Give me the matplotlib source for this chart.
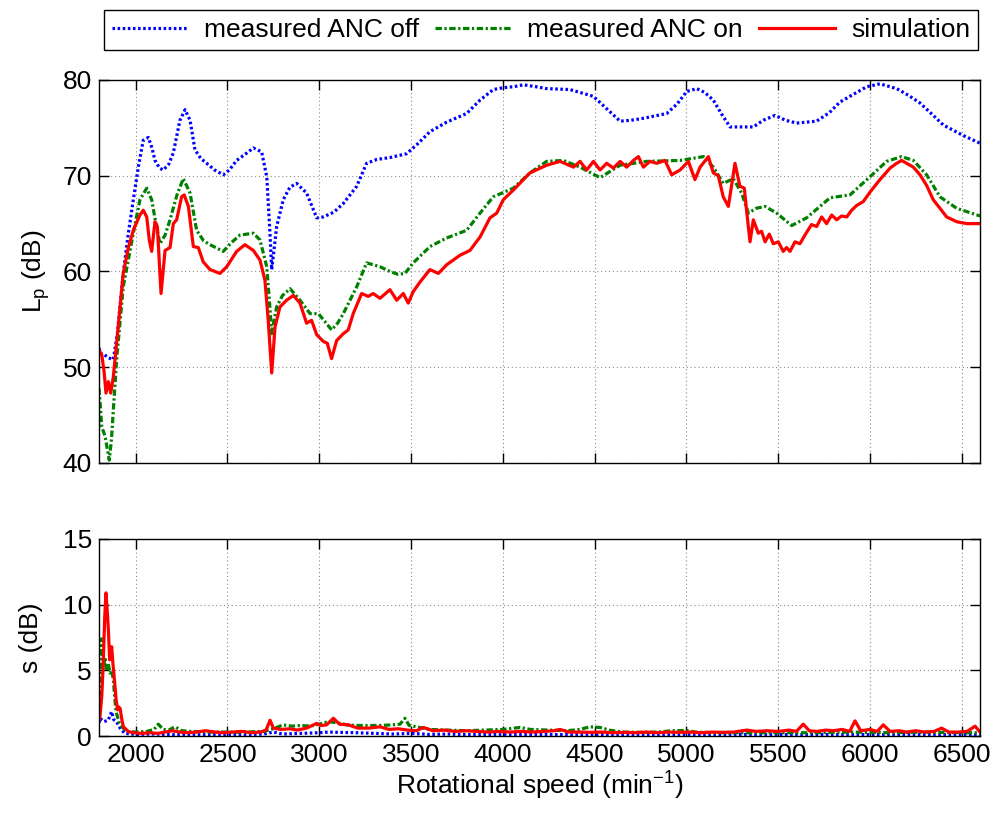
import matplotlib
matplotlib.use("Agg")
import matplotlib.pyplot as plt

plt.rcParams['font.family'] = ['Liberation Sans', 'DejaVu Sans']
plt.rcParams['mathtext.fontset'] = 'custom'
plt.rcParams['mathtext.rm'] = 'Liberation Sans'
plt.rcParams['mathtext.it'] = 'Liberation Sans'

# ---------------- data: top panel (sound pressure level, dB) ----------------
rpm_off = [1800, 1815, 1830, 1850, 1878, 1900, 1932, 1960, 1987, 2015, 2041, 2069, 2090, 2105,
           2130, 2150, 2180, 2205, 2241, 2269, 2296, 2323, 2355, 2387, 2430, 2477, 2510, 2550,
           2600, 2641, 2686, 2714, 2730, 2741, 2755, 2768, 2804, 2840, 2877, 2931, 2986, 3022,
           3080, 3131, 3204, 3258, 3313, 3385, 3476, 3540, 3603, 3694, 3803, 3876, 3948, 4003,
           4060, 4112, 4180, 4239, 4366, 4493, 4566, 4639, 4700, 4766, 4893, 4950, 5002, 5057,
           5100, 5147, 5190, 5238, 5300, 5365, 5420, 5483, 5540, 5601, 5710, 5780, 5837, 5910,
           5983, 6055, 6146, 6210, 6273, 6340, 6400, 6509, 6600]
lp_off = [52.0, 51.3, 51.3, 51.0, 50.8, 53.5, 59.8, 64.0, 67.5, 71.0, 73.7, 74.0, 72.8, 71.6,
          70.8, 70.6, 71.2, 72.4, 75.8, 76.9, 75.8, 72.7, 71.8, 71.3, 70.6, 70.1, 70.6, 71.6,
          72.3, 72.9, 72.5, 69.9, 64.5, 60.2, 62.5, 64.7, 67.5, 68.8, 69.2, 68.2, 65.6, 65.7,
          66.2, 67.1, 68.9, 71.3, 71.7, 71.9, 72.3, 73.4, 74.6, 75.6, 76.5, 77.9, 79.0, 79.2,
          79.3, 79.5, 79.3, 79.1, 79.0, 78.3, 77.0, 75.7, 75.8, 76.0, 76.5, 77.5, 78.8, 79.1,
          78.7, 77.9, 76.5, 75.1, 75.1, 75.1, 75.8, 76.3, 75.8, 75.5, 75.7, 76.6, 77.7, 78.5,
          79.3, 79.6, 79.1, 78.4, 77.6, 76.4, 75.3, 74.2, 73.4]

rpm_on = [1800, 1815, 1833, 1845, 1856, 1868, 1878, 1896, 1932, 1987, 2023, 2060, 2087, 2110,
          2132, 2160, 2187, 2225, 2259, 2296, 2332, 2370, 2405, 2477, 2520, 2568, 2641, 2677,
          2714, 2730, 2741, 2755, 2768, 2800, 2841, 2895, 2950, 2995, 3030, 3067, 3100, 3131,
          3204, 3258, 3331, 3385, 3430, 3467, 3512, 3603, 3694, 3803, 3876, 3948, 4057, 4148,
          4239, 4330, 4421, 4530, 4639, 4784, 4966, 5093, 5147, 5201, 5256, 5301, 5338, 5380,
          5429, 5492, 5574, 5655, 5783, 5892, 6001, 6091, 6173, 6237, 6309, 6382, 6473, 6600]
lp_on = [47.8, 43.8, 42.8, 41.5, 40.3, 42.5, 45.5, 50.8, 58.4, 64.0, 67.5, 68.7, 67.5, 65.0,
         62.9, 63.8, 65.4, 68.0, 69.7, 68.2, 64.3, 63.2, 62.8, 62.1, 63.0, 63.8, 64.0, 63.3,
         60.5, 56.5, 53.5, 55.0, 56.3, 57.5, 58.2, 57.0, 55.6, 55.6, 54.8, 53.9, 54.6, 55.6,
         58.4, 60.9, 60.5, 60.0, 59.7, 59.8, 60.9, 62.6, 63.5, 64.3, 66.1, 67.8, 68.7, 70.3,
         71.5, 71.6, 70.9, 69.8, 71.1, 71.5, 71.6, 72.0, 70.9, 69.2, 69.7, 68.2, 66.1, 66.6,
         66.8, 66.1, 64.8, 65.6, 67.7, 68.0, 69.9, 71.5, 72.0, 71.6, 70.1, 67.8, 66.6, 65.8]

rpm_sim = [1800, 1815, 1828, 1838, 1851, 1864, 1878, 1896, 1932, 1960, 1987, 2023, 2041, 2060,
           2074, 2087, 2105, 2118, 2138, 2160, 2187, 2205, 2223, 2250, 2264, 2287, 2314, 2341,
           2368, 2405, 2459, 2496, 2550, 2595, 2641, 2677, 2704, 2722, 2741, 2759, 2786, 2822,
           2859, 2895, 2931, 2958, 2986, 3022, 3044, 3067, 3095, 3131, 3158, 3185, 3231, 3267,
           3294, 3331, 3385, 3422, 3458, 3485, 3512, 3549, 3603, 3649, 3694, 3767, 3821, 3876,
           3930, 3967, 4003, 4057, 4148, 4239, 4312, 4385, 4421, 4457, 4494, 4530, 4566, 4603,
           4639, 4675, 4712, 4739, 4766, 4802, 4839, 4884, 4920, 4966, 5011, 5047, 5075, 5120,
           5147, 5174, 5201, 5229, 5265, 5292, 5316, 5328, 5347, 5365, 5392, 5410, 5429, 5452,
           5474, 5501, 5528, 5546, 5565, 5592, 5619, 5646, 5682, 5710, 5737, 5764, 5792, 5819,
           5846, 5874, 5901, 5928, 5964, 6001, 6055, 6110, 6146, 6173, 6200, 6237, 6273, 6309,
           6345, 6382, 6418, 6473, 6527, 6600]
lp_sim = [51.8, 51.3, 49.5, 47.3, 48.5, 47.3, 49.0, 52.5, 59.8, 62.5, 64.3, 65.9, 66.4, 65.7,
          63.3, 62.1, 65.2, 64.7, 57.7, 62.2, 62.5, 65.0, 65.4, 67.8, 68.0, 66.8, 62.6, 62.5,
          61.0, 60.2, 59.8, 60.5, 62.1, 62.8, 62.2, 61.2, 59.1, 54.9, 49.4, 54.2, 56.3, 57.0,
          57.5, 56.7, 54.6, 54.9, 53.4, 52.7, 52.5, 50.9, 52.8, 53.5, 53.9, 55.6, 57.7, 57.4,
          57.7, 57.2, 58.1, 57.0, 57.7, 56.7, 57.9, 58.9, 60.2, 59.8, 60.7, 61.7, 62.2, 63.6,
          65.6, 66.1, 67.5, 68.5, 70.3, 71.1, 71.5, 70.9, 71.5, 70.6, 71.5, 70.6, 71.3, 70.8,
          71.5, 70.9, 71.6, 72.0, 70.9, 71.5, 71.3, 71.6, 70.1, 70.6, 71.5, 69.6, 70.9, 72.0,
          70.3, 70.0, 67.8, 66.8, 71.3, 68.9, 68.7, 66.4, 63.1, 65.4, 64.0, 64.2, 63.1, 63.9,
          62.9, 63.1, 62.1, 62.5, 62.1, 63.1, 62.9, 63.8, 64.9, 64.7, 65.7, 65.0, 65.9, 65.4,
          65.8, 65.7, 66.4, 66.9, 67.3, 68.3, 69.6, 70.8, 71.3, 71.6, 71.3, 70.9, 70.1, 69.0,
          67.5, 66.6, 65.7, 65.2, 65.0, 65.0]

# ---------------- data: bottom panel (standard deviation s, dB) ----------------
rpm_s_off = [1800, 1805, 1828, 1850, 1869, 1880, 1895, 1915, 1940, 2000, 2100, 2200, 2300, 2400,
             2500, 2600, 2700, 2750, 2800, 2900, 3000, 3050, 3100, 3200, 3300, 3400, 3500, 3600,
             3700, 3800, 3900, 4000, 4200, 4400, 4600, 4800, 5000, 5200, 5400, 5600, 5800, 6000,
             6200, 6400, 6600]
s_off = [1.0, 1.35, 1.1, 1.2, 1.85, 1.25, 1.1, 0.6, 0.2, 0.12, 0.15, 0.1, 0.12, 0.1,
         0.12, 0.1, 0.15, 0.3, 0.15, 0.2, 0.25, 0.3, 0.28, 0.25, 0.2, 0.15, 0.2, 0.12,
         0.15, 0.1, 0.12, 0.1, 0.12, 0.1, 0.12, 0.1, 0.12, 0.1, 0.12, 0.1, 0.12, 0.1,
         0.12, 0.1, 0.1]

rpm_s_on = [1800, 1805, 1814, 1820, 1827, 1833, 1840, 1850, 1860, 1869, 1878, 1890, 1896, 1910,
            1925, 1950, 2000, 2060, 2100, 2123, 2150, 2180, 2214, 2250, 2300, 2400, 2500, 2600,
            2700, 2760, 2803, 2850, 2900, 2950, 3000, 3050, 3100, 3150, 3200, 3260, 3330, 3400,
            3440, 3467, 3490, 3530, 3600, 3700, 3800, 3900, 4000, 4094, 4150, 4250, 4350, 4420,
            4475, 4530, 4580, 4650, 4750, 4850, 4920, 5000, 5050, 5150, 5300, 5500, 5700, 5900,
            6100, 6300, 6500, 6600]
s_on = [3.0, 3.5, 7.4, 6.0, 5.5, 6.0, 5.0, 5.5, 4.8, 5.0, 4.3, 2.2, 1.7, 1.0,
        0.7, 0.35, 0.3, 0.35, 0.5, 0.9, 0.5, 0.45, 0.7, 0.4, 0.35, 0.3, 0.3, 0.3,
        0.35, 0.6, 0.85, 0.75, 0.8, 0.75, 0.9, 1.1, 1.0, 0.85, 0.8, 0.8, 0.8, 0.85,
        0.9, 1.35, 0.8, 0.7, 0.5, 0.45, 0.4, 0.45, 0.5, 0.65, 0.5, 0.45, 0.4, 0.5,
        0.7, 0.65, 0.45, 0.3, 0.28, 0.3, 0.4, 0.42, 0.3, 0.25, 0.25, 0.25, 0.25, 0.3,
        0.25, 0.3, 0.25, 0.25]

rpm_s_sim = [1800, 1805, 1815, 1823, 1831, 1838, 1845, 1851, 1858, 1864, 1869, 1876, 1884, 1893,
             1901, 1908, 1915, 1925, 1933, 1960, 1990, 2030, 2080, 2120, 2160, 2200, 2240, 2280,
             2330, 2380, 2430, 2480, 2530, 2580, 2630, 2680, 2710, 2732, 2750, 2790, 2840, 2880,
             2930, 2986, 3010, 3040, 3077, 3110, 3158, 3210, 3270, 3331, 3380, 3430, 3480, 3530,
             3567, 3620, 3680, 3740, 3800, 3860, 3920, 3980, 4040, 4100, 4160, 4220, 4280, 4312,
             4360, 4420, 4480, 4540, 4600, 4660, 4720, 4780, 4840, 4900, 4960, 5020, 5080, 5140,
             5200, 5260, 5328, 5380, 5440, 5500, 5560, 5600, 5637, 5670, 5710, 5760, 5800, 5850,
             5890, 5919, 5950, 6000, 6040, 6073, 6110, 6160, 6200, 6250, 6300, 6350, 6391, 6430,
             6480, 6530, 6573, 6600]
s_sim = [1.2, 1.47, 3.0, 5.5, 9.0, 10.9, 9.5, 8.1, 5.8, 6.4, 6.8, 5.5, 4.3, 2.8,
         2.0, 2.2, 2.1, 1.2, 0.7, 0.33, 0.25, 0.2, 0.25, 0.2, 0.3, 0.4, 0.3, 0.25,
         0.3, 0.4, 0.3, 0.25, 0.3, 0.35, 0.25, 0.3, 0.45, 1.2, 0.6, 0.5, 0.55, 0.45,
         0.6, 0.96, 0.8, 0.85, 1.35, 0.9, 0.85, 0.6, 0.6, 0.7, 0.5, 0.55, 0.45, 0.4,
         0.65, 0.4, 0.45, 0.35, 0.4, 0.35, 0.3, 0.35, 0.3, 0.35, 0.3, 0.35, 0.4, 0.5,
         0.3, 0.3, 0.28, 0.3, 0.25, 0.28, 0.25, 0.3, 0.25, 0.3, 0.28, 0.3, 0.25, 0.3,
         0.28, 0.3, 0.45, 0.35, 0.4, 0.35, 0.45, 0.35, 0.9, 0.4, 0.35, 0.45, 0.4, 0.5,
         0.35, 1.15, 0.4, 0.5, 0.35, 0.85, 0.35, 0.4, 0.3, 0.4, 0.3, 0.35, 0.6, 0.3,
         0.3, 0.35, 0.75, 0.3]

labels = ['measured ANC off', 'measured ANC on', 'simulation']
x_ticks = [2000, 2500, 3000, 3500, 4000, 4500, 5000, 5500, 6000, 6500]
y_ticks_top = [40, 50, 60, 70, 80]
y_ticks_bot = [0, 5, 10, 15]

# ---------------- styling ----------------
FS = 19
c_off, c_on, c_sim = (0, 0, 1), (0, 0.5, 0), (1, 0, 0)
ls_off = (0, (0.8, 0.8))
ls_on = (0, (2.0, 0.8, 0.7, 0.8))
LW = 2.3

fig = plt.figure(figsize=(9.95, 8.18), dpi=100)
ax1 = fig.add_axes([99 / 995, 1 - 463 / 818, 881 / 995, 383 / 818])
ax2 = fig.add_axes([99 / 995, 1 - 736 / 818, 881 / 995, 197 / 818])

h1, = ax1.plot(rpm_off, lp_off, color=c_off, ls=ls_off, lw=LW)
h2, = ax1.plot(rpm_on, lp_on, color=c_on, ls=ls_on, lw=LW)
h3, = ax1.plot(rpm_sim, lp_sim, color=c_sim, ls='-', lw=LW)

ax2.plot(rpm_s_off, s_off, color=c_off, ls=ls_off, lw=LW)
ax2.plot(rpm_s_on, s_on, color=c_on, ls=ls_on, lw=LW)
ax2.plot(rpm_s_sim, s_sim, color=c_sim, ls='-', lw=LW)

for ax, yt in ((ax1, y_ticks_top), (ax2, y_ticks_bot)):
    ax.set_xlim(1800, 6600)
    ax.set_xticks(x_ticks)
    ax.set_yticks(yt)
    ax.set_ylim(yt[0], yt[-1])
    ax.grid(True, color='#8c8c8c', ls=(0, (1, 2.5)), lw=0.8)
    ax.tick_params(direction='in', top=True, right=True, length=7, width=1.0,
                   labelsize=FS, pad=5)
    for sp in ax.spines.values():
        sp.set_linewidth(1.0)

ax1.tick_params(labelbottom=False)
ax1.set_ylabel('L$_\\mathrm{p}$ (dB)', fontsize=FS, labelpad=8)
ax2.set_ylabel('s (dB)', fontsize=FS, labelpad=14)
ax2.set_xlabel('Rotational speed (min$^{-1}$)', fontsize=FS, labelpad=2)

leg = fig.legend([h1, h2, h3], labels, ncol=3, loc='center',
                 bbox_to_anchor=(541 / 995, 1 - 30 / 818), fontsize=FS,
                 frameon=True, fancybox=False, edgecolor='black', framealpha=1,
                 handlelength=2.9, handletextpad=0.6, columnspacing=0.6,
                 borderpad=0.3)
leg.get_frame().set_linewidth(1.0)

fig.savefig('out.png', dpi=100)
